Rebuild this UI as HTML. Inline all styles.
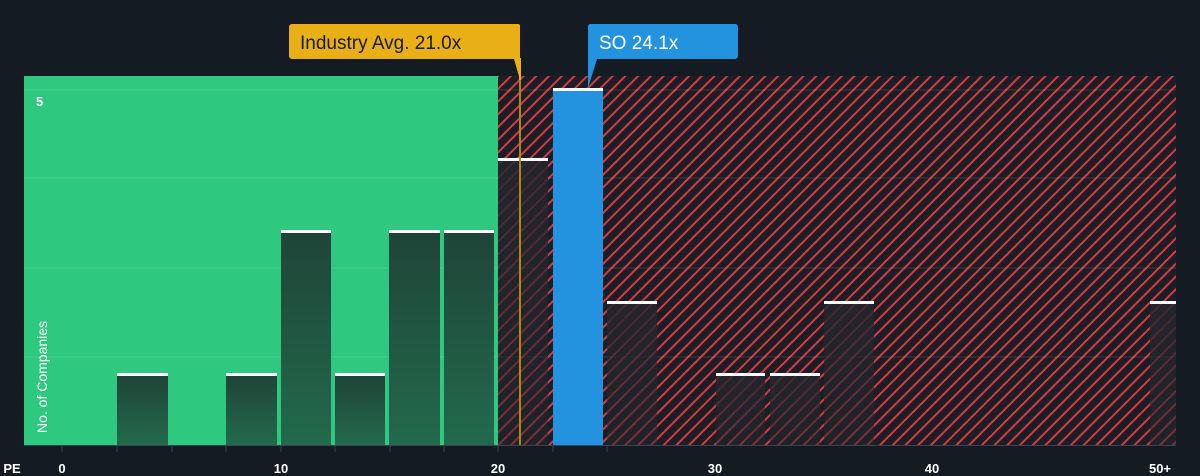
<!DOCTYPE html><html><head><style>body{margin:0;background:#151b23;}</style></head><body>
<svg width="1200" height="476" xmlns="http://www.w3.org/2000/svg" style="display:block;font-family:'Liberation Sans',sans-serif">
<defs>
<pattern id="h" width="9" height="9" patternUnits="userSpaceOnUse" patternTransform="rotate(45)">
<rect width="9" height="9" fill="#1b1e26"/><rect x="0" y="0" width="2" height="9" fill="#d63a3e"/>
</pattern>
<linearGradient id="g" x1="0" y1="0" x2="0" y2="1"><stop offset="0" stop-color="#1f4438"/><stop offset="1" stop-color="#236a4c"/></linearGradient>
<linearGradient id="r" x1="0" y1="0" x2="0" y2="1"><stop offset="0" stop-color="#25262d" stop-opacity=".85"/><stop offset="1" stop-color="#25262d" stop-opacity=".5"/></linearGradient>
</defs>
<rect width="1200" height="476" fill="#151b23"/>
<rect x="24" y="76" width="474" height="369" fill="#2ec97f"/>
<rect x="498" y="76" width="678" height="369" fill="url(#h)"/>
<g stroke="#ffffff" stroke-opacity=".12"><line x1="24" y1="90" x2="1176" y2="90"/><line x1="24" y1="178" x2="1176" y2="178"/><line x1="24" y1="268" x2="1176" y2="268"/><line x1="24" y1="357" x2="1176" y2="357"/></g>
<g fill="url(#g)">
<rect x="117" y="375" width="51" height="70"/><rect x="226" y="375" width="51" height="70"/><rect x="281" y="232" width="50" height="213"/><rect x="335" y="375" width="50" height="70"/><rect x="389" y="232" width="51" height="213"/><rect x="444" y="232" width="50" height="213"/>
</g>
<g fill="url(#r)">
<rect x="498" y="160" width="50" height="285"/><rect x="607" y="303" width="50" height="142"/><rect x="716" y="375" width="49" height="70"/><rect x="770" y="375" width="50" height="70"/><rect x="824" y="303" width="50" height="142"/><rect x="1150" y="303" width="26" height="142"/>
</g>
<rect x="553" y="90" width="50" height="355" fill="#2393df"/>
<g fill="#fff">
<rect x="117" y="373" width="51" height="3"/><rect x="226" y="373" width="51" height="3"/><rect x="281" y="230" width="50" height="3"/><rect x="335" y="373" width="50" height="3"/><rect x="389" y="230" width="51" height="3"/><rect x="444" y="230" width="50" height="3"/><rect x="498" y="158" width="50" height="3"/><rect x="553" y="88" width="50" height="3"/><rect x="607" y="301" width="50" height="3"/><rect x="716" y="373" width="49" height="3"/><rect x="770" y="373" width="50" height="3"/><rect x="824" y="301" width="50" height="3"/><rect x="1150" y="301" width="26" height="3"/>
</g>
<line x1="520" y1="58" x2="520" y2="445" stroke="#e8b016" stroke-width="2"/>
<rect x="519" y="80" width="2" height="365" fill="#8a6a1a" opacity=".6"/>
<line x1="24" y1="445.5" x2="1176" y2="445.5" stroke="#3a4350"/>
<g stroke="#3a4350"><line x1="62" y1="445" x2="62" y2="452"/><line x1="117" y1="445" x2="117" y2="452"/><line x1="172" y1="445" x2="172" y2="452"/><line x1="226" y1="445" x2="226" y2="452"/><line x1="281" y1="445" x2="281" y2="452"/><line x1="335" y1="445" x2="335" y2="452"/><line x1="390" y1="445" x2="390" y2="452"/><line x1="444" y1="445" x2="444" y2="452"/><line x1="498" y1="445" x2="498" y2="452"/><line x1="553" y1="445" x2="553" y2="452"/><line x1="607" y1="445" x2="607" y2="452"/></g>
<path d="M292 24 H518 a2 2 0 0 1 2 2 V59 H520 L520 80 L514 59 H292 a3 3 0 0 1 -3 -3 V27 a3 3 0 0 1 3 -3Z" fill="#e8b016"/>
<text x="300" y="49" font-size="19" fill="#1b1b1b">Industry Avg. 21.0x</text>
<path d="M590 24 H735 a3 3 0 0 1 3 3 V56 a3 3 0 0 1 -3 3 H597 L588 88 V27 a3 3 0 0 1 2 -3Z" fill="#2393df"/>
<text x="599" y="49" font-size="19" fill="#fff">SO 24.1x</text>
<text x="36" y="106" font-size="13" font-weight="bold" fill="#fff">5</text>
<text transform="translate(47,433) rotate(-90)" font-size="14" fill="#fff">No. of Companies</text>
<g font-size="13" font-weight="bold" fill="#fff" text-anchor="middle">
<text x="12" y="473">PE</text><text x="62" y="473">0</text><text x="281" y="473">10</text><text x="498" y="473">20</text><text x="715" y="473">30</text><text x="932" y="473">40</text><text x="1160" y="473">50+</text>
</g>
</svg></body></html>
